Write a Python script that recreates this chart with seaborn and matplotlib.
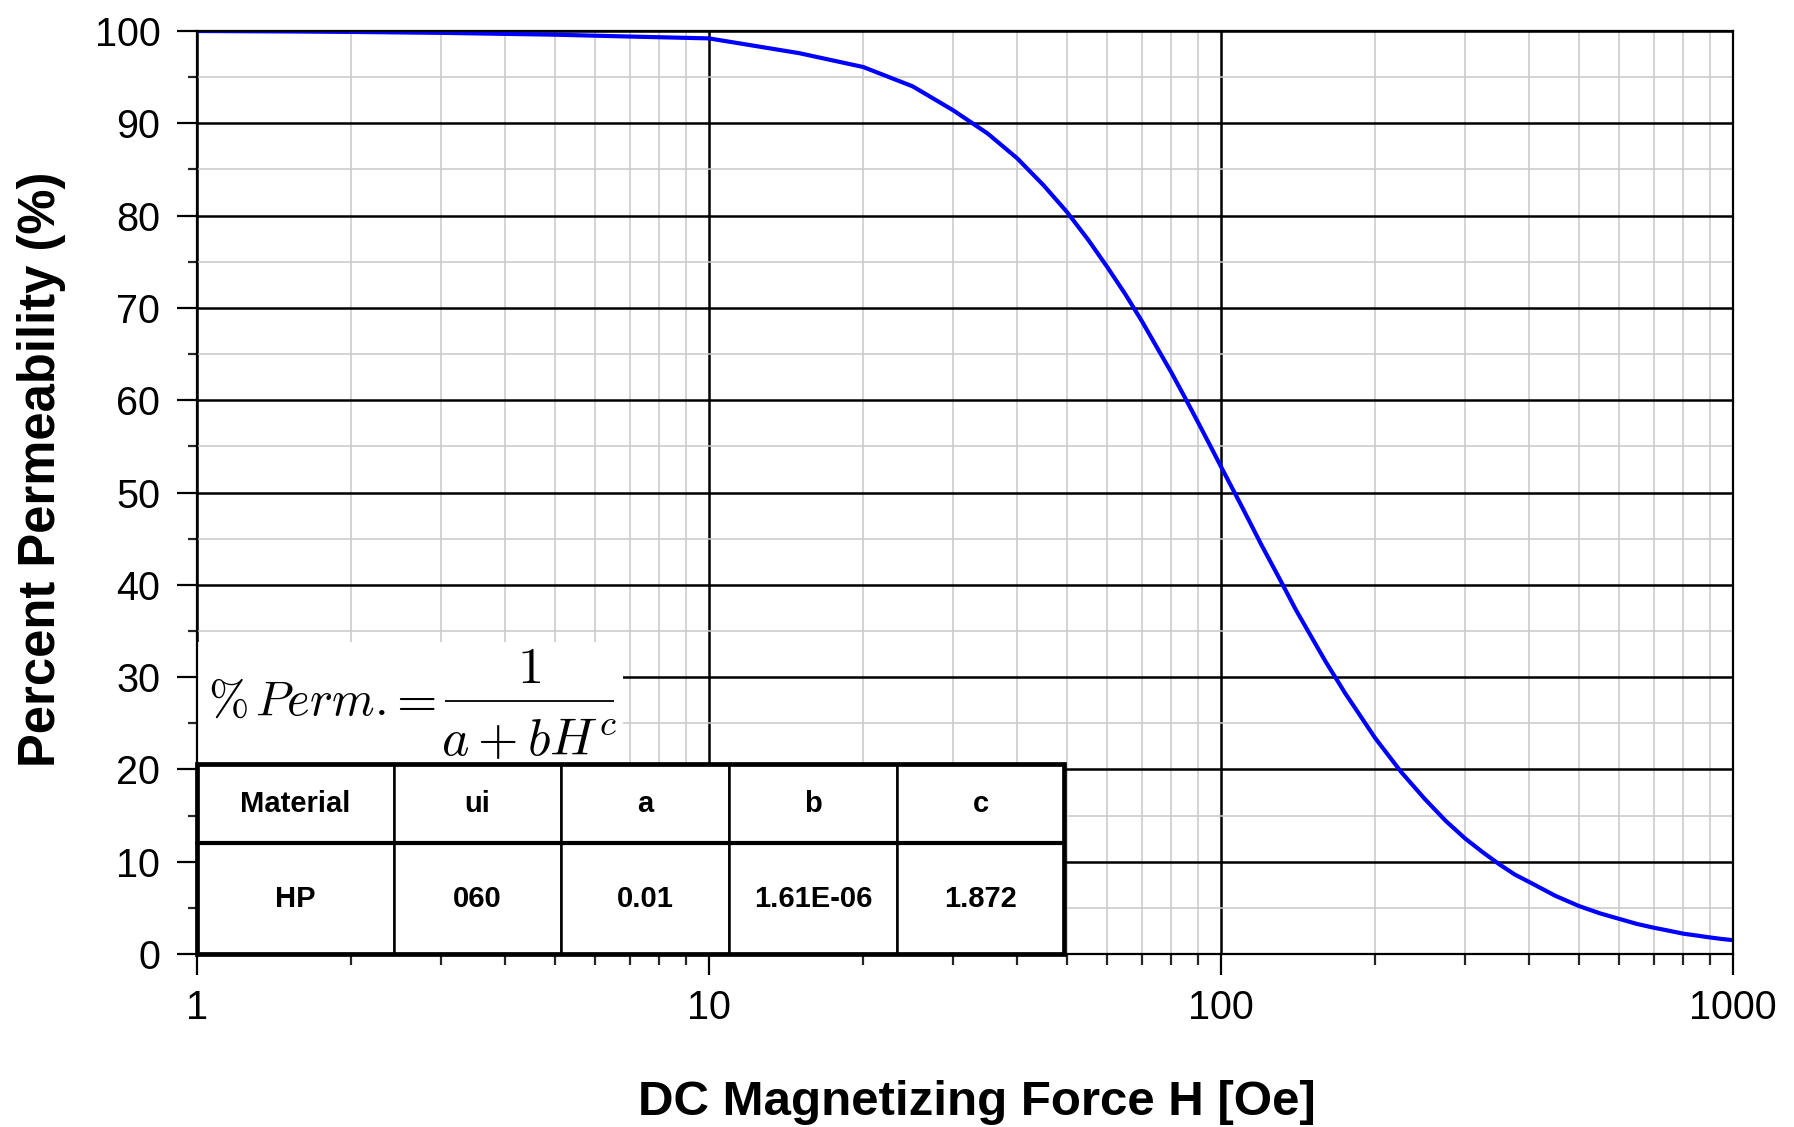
import matplotlib
matplotlib.use("Agg")
import matplotlib.pyplot as plt
from matplotlib.patches import Rectangle
from matplotlib.ticker import MultipleLocator, LogLocator, NullFormatter
import seaborn as sns
import pandas as pd

# ---- data ----
H_oe = [1, 1.5, 2, 3, 5, 7, 10, 15, 20, 25, 30, 35, 40, 45, 50, 55, 60, 65, 70,
        75, 80, 85, 90, 95, 100, 110, 120, 130, 140, 150, 160, 175, 180, 200,
        225, 250, 275, 300, 325, 350, 375, 400, 450, 500, 550, 600, 650, 700,
        750, 800, 850, 900, 950, 1000]
perm_pct = [100.0, 99.95, 99.9, 99.8, 99.6, 99.4, 99.2, 97.6, 96.1, 94.0, 91.4,
            88.9, 86.2, 83.3, 80.4, 77.4, 74.4, 71.5, 68.6, 65.7, 63.0, 60.3,
            57.7, 55.2, 52.8, 48.4, 44.3, 40.7, 37.3, 34.4, 31.7, 28.2, 27.2,
            23.4, 19.7, 16.8, 14.4, 12.5, 11.0, 9.7, 8.6, 7.8, 6.3, 5.2, 4.4,
            3.8, 3.25, 2.85, 2.52, 2.2, 2.0, 1.8, 1.63, 1.5]

x_ticks = [1, 10, 100, 1000]
x_tick_labels = ["1", "10", "100", "1000"]
y_ticks = [0, 10, 20, 30, 40, 50, 60, 70, 80, 90, 100]

table_header = ["Material", "ui", "a", "b", "c"]
table_row = ["HP", "060", "0.01", "1.61E-06", "1.872"]

formula_lhs = r"$\%\,Perm.$"
formula_eq = r"$=$"
formula_num = r"$1$"
formula_den = r"$a+bH^c$"
x_label = "DC Magnetizing Force H [Oe]"
y_label = "Percent Permeability (%)"

# ---- style ----
sns.set_theme(style="ticks")
plt.rcParams["font.family"] = ["Liberation Sans", "DejaVu Sans"]
plt.rcParams["mathtext.fontset"] = "cm"

fig = plt.figure(figsize=(17.94, 11.27), dpi=100)
ax = fig.add_axes([0.10981, 0.15350, 0.85619, 0.81899])

df = pd.DataFrame({"H": H_oe, "perm": perm_pct})
sns.lineplot(data=df, x="H", y="perm", ax=ax, color="#0000ff", lw=3.0, zorder=4)

ax.set_xscale("log")
ax.set_xlim(1, 1000)
ax.set_ylim(0, 100)
ax.set_xticks(x_ticks, labels=x_tick_labels)
ax.xaxis.set_minor_locator(LogLocator(base=10, subs=[2, 3, 4, 5, 6, 7, 8, 9]))
ax.xaxis.set_minor_formatter(NullFormatter())
ax.set_yticks(y_ticks)
ax.yaxis.set_minor_locator(MultipleLocator(5))

ax.set_axisbelow(True)
ax.grid(which="minor", color="#c8c8c8", lw=1.1)
ax.grid(which="major", color="black", lw=1.8)

for s in ax.spines.values():
    s.set_visible(True)
    s.set_color("black")
    s.set_linewidth(1.6)
    s.set_zorder(6)

ax.tick_params(axis="x", which="major", length=15, width=1.6, pad=10,
               labelsize=28.5, color="black", labelcolor="black", direction="out")
ax.tick_params(axis="x", which="minor", length=8, width=1.6, direction="out")
ax.tick_params(axis="y", which="major", length=14.4, width=1.6, pad=12,
               labelsize=28.5, color="black", labelcolor="black", direction="out")
ax.tick_params(axis="y", which="minor", length=6.5, width=1.6, direction="out")

ax.set_xlabel(x_label, fontsize=35.5, fontweight="bold", color="black")
ax.xaxis.label.set_va("baseline")
ax.xaxis.set_label_coords(0.5078, -0.174)
ax.set_ylabel(y_label, fontsize=36.5, fontweight="bold", color="black")
ax.yaxis.label.set_va("center")
ax.yaxis.set_label_coords(-0.101, 0.5255)

# ---- formula box ----
ax.add_patch(Rectangle((0, 0.2058), 0.2773, 0.1322, transform=ax.transAxes,
                       facecolor="white", edgecolor="none", zorder=3))
fsz = 37.5
ax.text(0.00716, 0.2589, formula_lhs, transform=ax.transAxes, fontsize=35,
        ha="left", va="baseline", zorder=7, color="black")
ax.text(0.1395, 0.2589, formula_eq, transform=ax.transAxes, fontsize=fsz,
        ha="center", va="baseline", zorder=7, color="black")
ax.text(0.2161, 0.2936, formula_num, transform=ax.transAxes, fontsize=fsz,
        ha="center", va="baseline", zorder=7, color="black")
ax.text(0.2161, 0.2156, formula_den, transform=ax.transAxes, fontsize=fsz,
        ha="center", va="baseline", zorder=7, color="black")
ax.plot([0.1615, 0.2715], [0.2741, 0.2741], transform=ax.transAxes,
        color="black", lw=1.3, zorder=7, solid_capstyle="butt")

# ---- parameter table ----
tw, th = 0.5645, 0.2058
col_w = [197, 167, 168, 168, 167]
tbl = ax.table(cellText=[table_row], colLabels=table_header,
               colWidths=[w / sum(col_w) for w in col_w],
               cellLoc="center", bbox=[0, 0, tw, th])
tbl.auto_set_font_size(False)
for (r, c), cell in tbl.get_celld().items():
    cell.set_linewidth(1.8)
    cell.set_edgecolor("black")
    cell.set_facecolor("white")
    cell.set_height(0.0856 if r == 0 else 0.1203)
    cell.get_text().set_fontsize(21)
    cell.get_text().set_fontweight("bold")
    cell.get_text().set_color("black")
tbl.set_zorder(5)

ax.add_patch(Rectangle((0, 0), tw, th, transform=ax.transAxes, fill=False,
                       edgecolor="black", lw=3.4, zorder=7, clip_on=False))
ax.plot([0, tw], [0.1203, 0.1203], transform=ax.transAxes, color="black",
        lw=3.0, zorder=7, clip_on=False)

fig.savefig("out.png", dpi=100, facecolor="white")
